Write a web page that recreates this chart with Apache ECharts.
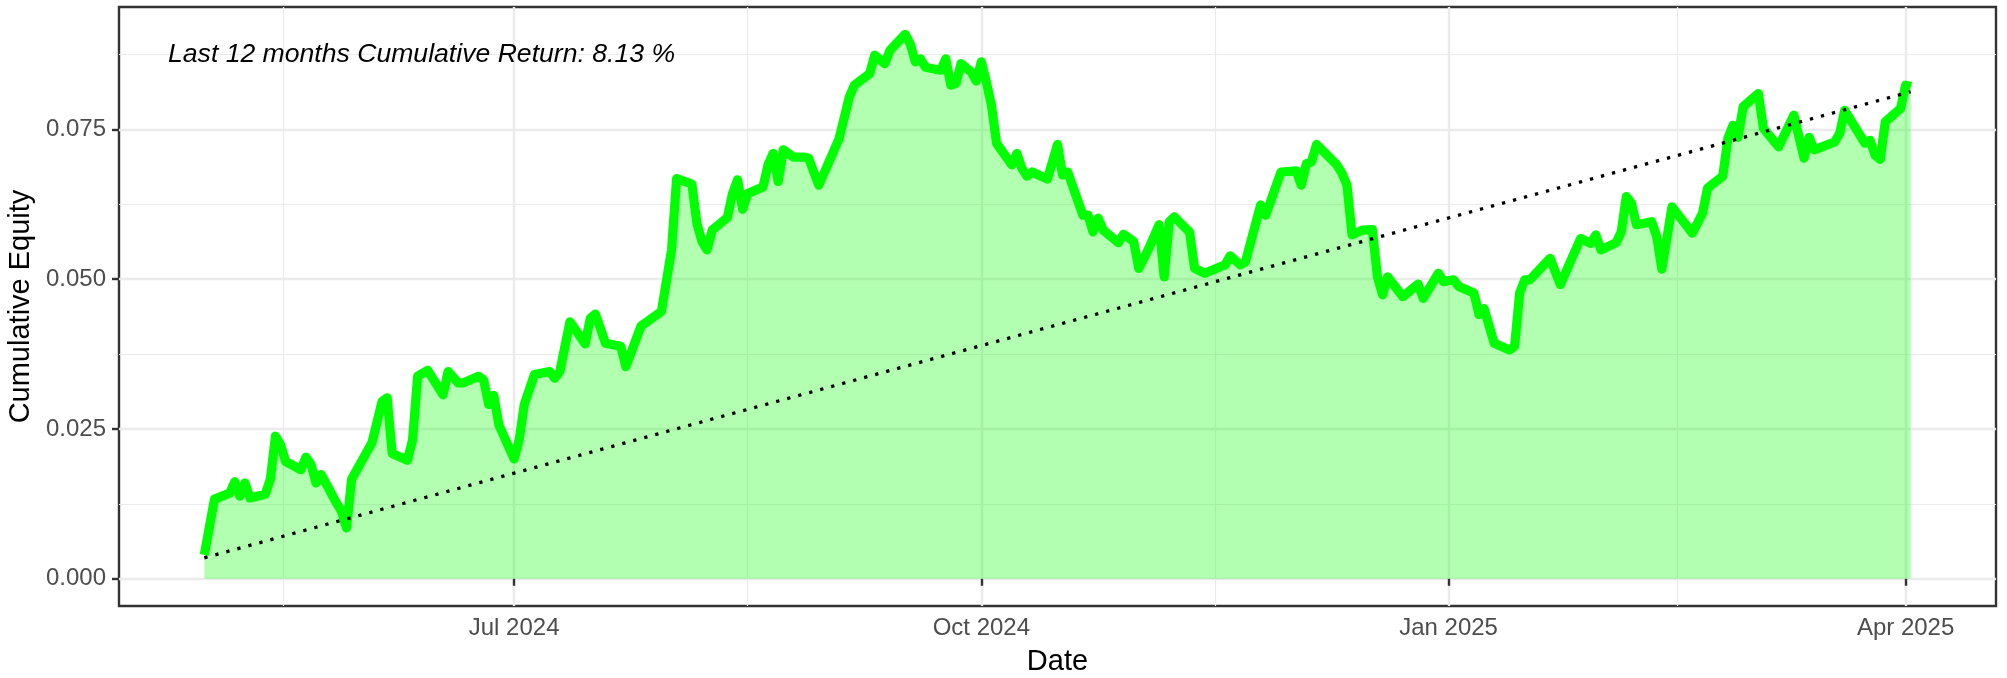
<!DOCTYPE html>
<html>
<head>
<meta charset="utf-8">
<script src="https://cdn.jsdelivr.net/npm/echarts@6/dist/echarts.min.js"></script>
<style>
html,body{margin:0;padding:0;background:#fff;}
#chart{width:2007px;height:678px;}
</style>
</head>
<body>
<div id="chart"></div>
<script>
// ---- data ----
const dates = ['2024-05-01','2024-05-03','2024-05-06','2024-05-07','2024-05-08','2024-05-09','2024-05-10','2024-05-13','2024-05-14','2024-05-15','2024-05-16','2024-05-17','2024-05-20','2024-05-21','2024-05-22','2024-05-23','2024-05-24','2024-05-27','2024-05-28','2024-05-29','2024-05-30','2024-06-03','2024-06-05','2024-06-06','2024-06-07','2024-06-10','2024-06-11','2024-06-12','2024-06-14','2024-06-17','2024-06-18','2024-06-20','2024-06-21','2024-06-24','2024-06-25','2024-06-26','2024-06-27','2024-06-28','2024-07-01','2024-07-02','2024-07-03','2024-07-05','2024-07-08','2024-07-09','2024-07-10','2024-07-12','2024-07-15','2024-07-16','2024-07-17','2024-07-19','2024-07-22','2024-07-23','2024-07-26','2024-07-30','2024-08-01','2024-08-02','2024-08-05','2024-08-06','2024-08-07','2024-08-08','2024-08-09','2024-08-12','2024-08-13','2024-08-14','2024-08-15','2024-08-16','2024-08-19','2024-08-20','2024-08-21','2024-08-22','2024-08-23','2024-08-25','2024-08-27','2024-08-28','2024-08-29','2024-08-30','2024-09-03','2024-09-05','2024-09-06','2024-09-09','2024-09-10','2024-09-12','2024-09-13','2024-09-16','2024-09-17','2024-09-18','2024-09-19','2024-09-20','2024-09-23','2024-09-24','2024-09-25','2024-09-26','2024-09-27','2024-09-29','2024-09-30','2024-10-01','2024-10-02','2024-10-03','2024-10-04','2024-10-07','2024-10-08','2024-10-09','2024-10-10','2024-10-11','2024-10-14','2024-10-16','2024-10-17','2024-10-18','2024-10-21','2024-10-22','2024-10-23','2024-10-24','2024-10-25','2024-10-28','2024-10-29','2024-10-31','2024-11-01','2024-11-03','2024-11-05','2024-11-06','2024-11-07','2024-11-08','2024-11-11','2024-11-12','2024-11-14','2024-11-18','2024-11-19','2024-11-21','2024-11-22','2024-11-25','2024-11-26','2024-11-29','2024-12-02','2024-12-03','2024-12-04','2024-12-05','2024-12-06','2024-12-10','2024-12-11','2024-12-12','2024-12-13','2024-12-15','2024-12-17','2024-12-18','2024-12-19','2024-12-20','2024-12-23','2024-12-26','2024-12-27','2024-12-30','2024-12-31','2025-01-02','2025-01-03','2025-01-06','2025-01-07','2025-01-08','2025-01-10','2025-01-13','2025-01-14','2025-01-15','2025-01-16','2025-01-17','2025-01-21','2025-01-23','2025-01-27','2025-01-29','2025-01-30','2025-01-31','2025-02-03','2025-02-04','2025-02-05','2025-02-06','2025-02-07','2025-02-10','2025-02-11','2025-02-12','2025-02-14','2025-02-18','2025-02-20','2025-02-21','2025-02-24','2025-02-25','2025-02-26','2025-02-27','2025-02-28','2025-03-03','2025-03-04','2025-03-07','2025-03-10','2025-03-12','2025-03-13','2025-03-14','2025-03-18','2025-03-19','2025-03-20','2025-03-24','2025-03-25','2025-03-26','2025-03-27','2025-03-28','2025-03-31','2025-04-01','2025-04-02'];
const equity = [0.0040,0.0133,0.0143,0.0162,0.0138,0.0160,0.0135,0.0141,0.0166,0.0238,0.0224,0.0196,0.0182,0.0203,0.0191,0.0160,0.0174,0.0127,0.0113,0.0085,0.0166,0.0227,0.0296,0.0302,0.0209,0.0198,0.0232,0.0338,0.0348,0.0307,0.0346,0.0327,0.0327,0.0338,0.0332,0.0291,0.0306,0.0257,0.0200,0.0232,0.0291,0.0341,0.0346,0.0335,0.0346,0.0429,0.0392,0.0435,0.0442,0.0393,0.0388,0.0354,0.0422,0.0446,0.0549,0.0668,0.0659,0.0593,0.0563,0.0549,0.0582,0.0603,0.0643,0.0666,0.0617,0.0643,0.0654,0.0691,0.0710,0.0663,0.0716,0.0704,0.0704,0.0702,0.0679,0.0657,0.0735,0.0804,0.0824,0.0843,0.0874,0.0860,0.0882,0.0909,0.0893,0.0863,0.0868,0.0854,0.0849,0.0868,0.0824,0.0827,0.0860,0.0846,0.0831,0.0863,0.0829,0.0790,0.0727,0.0691,0.0710,0.0685,0.0672,0.0679,0.0667,0.0725,0.0674,0.0679,0.0607,0.0607,0.0579,0.0602,0.0582,0.0561,0.0575,0.0563,0.0518,0.0552,0.0591,0.0504,0.0596,0.0604,0.0579,0.0518,0.0510,0.0524,0.0539,0.0524,0.0529,0.0624,0.0607,0.0679,0.0681,0.0657,0.0693,0.0696,0.0725,0.0691,0.0677,0.0657,0.0574,0.0582,0.0583,0.0504,0.0474,0.0504,0.0471,0.0492,0.0468,0.0510,0.0496,0.0499,0.0488,0.0477,0.0441,0.0451,0.0393,0.0382,0.0388,0.0477,0.0499,0.0499,0.0535,0.0491,0.0568,0.0560,0.0574,0.0549,0.0561,0.0579,0.0638,0.0627,0.0591,0.0596,0.0571,0.0517,0.0621,0.0577,0.0610,0.0652,0.0672,0.0735,0.0757,0.0737,0.0788,0.0810,0.0752,0.0721,0.0774,0.0702,0.0737,0.0716,0.0729,0.0743,0.0782,0.0727,0.0732,0.0707,0.0700,0.0763,0.0785,0.0824,0.0821];
const trendDates = ['2024-05-01','2025-04-02'];
const trendValues = [0.0035, 0.0813];
const xMajorTicks = ['2024-07-01','2024-10-01','2025-01-01','2025-04-01'];
const xMinorBreaks = ['2024-05-16T12:00:00Z','2024-08-16','2024-11-16','2025-02-15'];
const yMajorTicks = [0, 0.025, 0.05, 0.075];
const yMinorBreaks = [0.0125, 0.0375, 0.0625, 0.0875];
const annotationText = 'Last 12 months Cumulative Return: 8.13 %';
const xTitle = 'Date';
const yTitle = 'Cumulative Equity';
const monthNames = ['Jan','Feb','Mar','Apr','May','Jun','Jul','Aug','Sep','Oct','Nov','Dec'];

// ---- build ----
const ts = s => Date.parse(s);
const lineData = dates.map((d, i) => [ts(d), equity[i]]);
const trendData = trendDates.map((d, i) => [ts(d), trendValues[i]]);
const xFirst = ts(dates[0]), xLast = ts(dates[dates.length - 1]);
const xPad = (xLast - xFirst) * 0.05;
const xMin = xFirst - xPad, xMax = xLast + xPad;
const yTop = Math.max.apply(null, equity.concat([0]));
const yBot = Math.min.apply(null, equity.concat([0]));
const yPad = (yTop - yBot) * 0.05;
const yMin = yBot - yPad, yMax = yTop + yPad;

const FONT = '"Liberation Sans", Arial, sans-serif';
const chart = echarts.init(document.getElementById('chart'), null, {renderer: 'canvas'});

const option = {
  backgroundColor: '#ffffff',
  animation: false,
  grid: {
    left: 119, right: 11, top: 7, bottom: 72,
    show: true, borderColor: '#333333', borderWidth: 2.4, backgroundColor: 'transparent',
    containLabel: false, outerBoundsMode: 'none'
  },
  xAxis: [
    {
      type: 'value', min: xMin, max: xMax, position: 'bottom',
      axisLine: {show: false},
      axisTick: {show: true, length: 7, lineStyle: {color: '#333333', width: 2.4},
                 customValues: xMajorTicks.map(ts)},
      axisLabel: {show: true, customValues: xMajorTicks.map(ts), margin: 10,
                  color: '#4D4D4D', fontSize: 24, fontFamily: FONT,
                  formatter: v => { const d = new Date(v); return monthNames[d.getUTCMonth()] + ' ' + d.getUTCFullYear(); }},
      splitLine: {show: true, lineStyle: {color: '#EBEBEB', width: 2.4}},
      name: xTitle, nameLocation: 'middle', nameGap: 41,
      nameTextStyle: {color: '#000000', fontSize: 29, fontFamily: FONT}
    },
    {
      type: 'value', min: xMin, max: xMax, position: 'bottom',
      axisLine: {show: false},
      axisTick: {show: false, customValues: xMinorBreaks.map(ts)},
      axisLabel: {show: false},
      splitLine: {show: true, lineStyle: {color: '#EBEBEB', width: 1.2}}
    }
  ],
  yAxis: [
    {
      type: 'value', min: yMin, max: yMax, position: 'left',
      axisLine: {show: false},
      axisTick: {show: true, length: 7, lineStyle: {color: '#333333', width: 2.4},
                 customValues: yMajorTicks},
      axisLabel: {show: true, customValues: yMajorTicks, margin: 13,
                  color: '#4D4D4D', fontSize: 24, fontFamily: FONT,
                  formatter: v => v.toFixed(3)},
      splitLine: {show: true, lineStyle: {color: '#EBEBEB', width: 2.4}},
      name: yTitle, nameLocation: 'middle', nameGap: 78, nameRotate: 90,
      nameTextStyle: {color: '#000000', fontSize: 29, fontFamily: FONT}
    },
    {
      type: 'value', min: yMin, max: yMax, position: 'left',
      axisLine: {show: false},
      axisTick: {show: false, customValues: yMinorBreaks},
      axisLabel: {show: false},
      splitLine: {show: true, lineStyle: {color: '#EBEBEB', width: 1.2}}
    }
  ],
  graphic: [
    {
      type: 'text', left: 168, top: 41, z: 100,
      style: {text: annotationText, font: 'italic 26.6px ' + FONT, fill: '#000000'}
    }
  ],
  series: [
    {
      name: 'equity', type: 'line', xAxisIndex: 0, yAxisIndex: 0,
      data: lineData, showSymbol: false, symbol: 'none', silent: true,
      lineStyle: {color: '#00FF00', width: 9.2, cap: 'butt', join: 'round'}
    },
    {
      name: 'trend', type: 'line', xAxisIndex: 0, yAxisIndex: 0,
      data: trendData, showSymbol: false, symbol: 'none', silent: true,
      lineStyle: {color: '#000000', width: 3.3, type: [3.3, 8.1], cap: 'butt'}
    },
    {
      name: 'fill', type: 'line', xAxisIndex: 0, yAxisIndex: 0,
      data: lineData, showSymbol: false, symbol: 'none', silent: true,
      lineStyle: {width: 0, opacity: 0},
      areaStyle: {color: 'rgba(0,255,0,0.3)', opacity: 1, origin: 'auto'}
    }
  ]
};
chart.setOption(option);
</script>
</body>
</html>
